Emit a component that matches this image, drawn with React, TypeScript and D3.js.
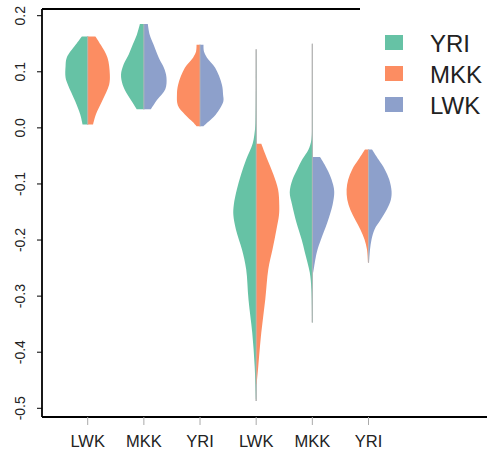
import React from "react";
import * as d3 from "d3";

const categories = ["LWK", "MKK", "YRI", "LWK", "MKK", "YRI"];
const legendSeries = ["YRI", "MKK", "LWK"];
const seriesColors: Record<string, string> = { YRI: "#66C2A5", MKK: "#FC8D62", LWK: "#8DA0CB" };
const yTicks = [0.2, 0.1, 0.0, -0.1, -0.2, -0.3, -0.4, -0.5];
const yTickLabels = ["0.2", "0.1", "0.0", "-0.1", "-0.2", "-0.3", "-0.4", "-0.5"];
const halfSeries = [["YRI", "MKK"], ["YRI", "LWK"], ["MKK", "LWK"], ["YRI", "MKK"], ["YRI", "LWK"], ["MKK", "LWK"]];
// full data range of each violin (grey centre line)
const ranges = [[0.006, 0.163], [0.033, 0.185], [0.003, 0.148], [-0.487, 0.14], [-0.347, 0.15], [-0.24, -0.0387]];

// [value, relative density]
const v1Left = [[0.163, 0.25], [0.148, 0.52], [0.125, 0.9], [0.11, 0.95], [0.09, 0.95], [0.077, 0.85], [0.048, 0.54], [0.024, 0.32], [0.006, 0.22]];
const v1Right = [[0.163, 0.33], [0.148, 0.56], [0.125, 0.85], [0.095, 0.95], [0.077, 0.92], [0.048, 0.62], [0.024, 0.35], [0.006, 0.23]];
const v2Left = [[0.185, 0.17], [0.166, 0.3], [0.148, 0.48], [0.131, 0.65], [0.113, 0.87], [0.095, 0.98], [0.077, 0.91], [0.059, 0.7], [0.045, 0.48], [0.033, 0.3]];
const v2Right = [[0.185, 0.17], [0.166, 0.25], [0.148, 0.42], [0.125, 0.64], [0.107, 0.86], [0.09, 0.97], [0.069, 0.92], [0.05, 0.57], [0.033, 0.3]];
const v3Left = [[0.148, 0.15], [0.136, 0.17], [0.125, 0.3], [0.107, 0.65], [0.077, 0.94], [0.059, 0.99], [0.04, 0.95], [0.024, 0.65], [0.01, 0.3], [0.003, 0.15]];
const v3Right = [[0.148, 0.15], [0.136, 0.17], [0.125, 0.3], [0.107, 0.65], [0.077, 0.94], [0.059, 0.99], [0.047, 1.0], [0.024, 0.68], [0.01, 0.33], [0.003, 0.15]];
const v4Left = [[0.14, 0.0], [0.086, 0.005], [0.05, 0.012], [0.024, 0.02], [0.002, 0.04], [-0.028, 0.15], [-0.0565, 0.43], [-0.083, 0.65], [-0.11, 0.83], [-0.137, 0.96], [-0.155, 0.98], [-0.181, 0.87], [-0.217, 0.61], [-0.252, 0.43], [-0.306, 0.33], [-0.365, 0.17], [-0.425, 0.065], [-0.484, 0.01]];
const v4Right = [[-0.0285, 0.22], [-0.0565, 0.48], [-0.083, 0.74], [-0.11, 0.94], [-0.137, 0.99], [-0.155, 0.98], [-0.181, 0.87], [-0.217, 0.7], [-0.252, 0.52], [-0.306, 0.39], [-0.365, 0.22], [-0.425, 0.09], [-0.457, 0.02]];
const v5Left = [[0.15, 0.0], [0.015, 0.01], [-0.021, 0.04], [-0.039, 0.17], [-0.056, 0.43], [-0.074, 0.65], [-0.092, 0.85], [-0.115, 0.97], [-0.137, 0.87], [-0.169, 0.68], [-0.199, 0.46], [-0.222, 0.32], [-0.258, 0.11], [-0.288, 0.04], [-0.347, 0.01]];
const v5Right = [[-0.052, 0.33], [-0.065, 0.52], [-0.083, 0.74], [-0.101, 0.89], [-0.115, 0.94], [-0.137, 0.87], [-0.169, 0.64], [-0.199, 0.37], [-0.222, 0.19], [-0.258, 0.04]];
const v6Left = [[-0.0387, 0.15], [-0.0566, 0.43], [-0.074, 0.7], [-0.092, 0.87], [-0.11, 0.94], [-0.128, 0.91], [-0.146, 0.78], [-0.164, 0.57], [-0.181, 0.35], [-0.199, 0.17], [-0.217, 0.065], [-0.24, 0.02]];
const v6Right = [[-0.0387, 0.15], [-0.0566, 0.43], [-0.074, 0.7], [-0.092, 0.89], [-0.113, 0.99], [-0.128, 0.96], [-0.146, 0.78], [-0.164, 0.52], [-0.181, 0.26], [-0.199, 0.13], [-0.217, 0.065], [-0.24, 0.02]];

const halves = [[v1Left, v1Right], [v2Left, v2Right], [v3Left, v3Right], [v4Left, v4Right], [v5Left, v5Right], [v6Left, v6Right]];

const W = 487;
const H = 451;
const plotLeft = 42;
const plotTop = 9;
const plotBottom = 417;

export default function App() {
  const y = d3.scaleLinear().domain([-0.5, 0.2]).range([408.3, 15.7]);
  const x = d3.scaleLinear().domain([1, 6]).range([87.7, 368.5]);
  const w = d3.scaleLinear().domain([0, 1]).range([0, 23.3]);
  const font = "'Liberation Sans', Arial, Helvetica, sans-serif";

  const makeArea = (cx: number, side: number) =>
    d3
      .area<number[]>()
      .y((d) => y(d[0]))
      .x0(cx)
      .x1((d) => cx + side * w(d[1]))
      .curve(d3.curveCatmullRom.alpha(0.5));

  return (
    <svg width={W} height={H} style={{ position: "absolute", left: 0, top: 0, background: "#fff" }}>
      <rect x={0} y={0} width={W} height={H} fill="#fff" />
      {halves.map((pair, i) => {
        const cx = x(i + 1);
        const [lo, hi] = ranges[i];
        return (
          <g key={i}>
            <line x1={cx} x2={cx} y1={y(hi)} y2={y(lo)} stroke="#b0b0b0" strokeWidth={1.2} />
            <path d={makeArea(cx, -1)(pair[0] as number[][]) || ""} fill={seriesColors[halfSeries[i][0]]} />
            <path d={makeArea(cx, 1)(pair[1] as number[][]) || ""} fill={seriesColors[halfSeries[i][1]]} />
            <line x1={cx} x2={cx} y1={y(hi)} y2={y(lo)} stroke="#b8b8b8" strokeWidth={0.8} />
          </g>
        );
      })}
      {/* frame */}
      <line x1={plotLeft} x2={plotLeft} y1={plotTop} y2={plotBottom} stroke="#000" strokeWidth={1.8} />
      <line x1={plotLeft} x2={360} y1={plotTop} y2={plotTop} stroke="#000" strokeWidth={1.8} />
      <line x1={plotLeft} x2={W} y1={plotBottom} y2={plotBottom} stroke="#000" strokeWidth={1.8} />
      {/* y axis */}
      {yTicks.map((t, i) => (
        <g key={i}>
          <line x1={plotLeft - 5} x2={plotLeft} y1={y(t)} y2={y(t)} stroke="#000" strokeWidth={1} />
          <text
            transform={`translate(25,${y(t)}) rotate(-90)`}
            textAnchor="middle"
            fontFamily={font}
            fontSize={14}
            fill="#222"
          >
            {yTickLabels[i]}
          </text>
        </g>
      ))}
      {/* x axis */}
      {categories.map((c, i) => (
        <g key={i}>
          <line x1={x(i + 1)} x2={x(i + 1)} y1={plotBottom} y2={plotBottom + 8} stroke="#aaa" strokeWidth={1} />
          <text x={x(i + 1)} y={446.5} textAnchor="middle" fontFamily={font} fontSize={16.5} fill="#222">
            {c}
          </text>
        </g>
      ))}
      {/* legend */}
      {legendSeries.map((s, i) => (
        <g key={s}>
          <rect x={385} y={35 + i * 31} width={18} height={15} fill={seriesColors[s]} />
          <text x={430} y={51.5 + i * 31} fontFamily={font} fontSize={24} fill="#222">
            {s}
          </text>
        </g>
      ))}
    </svg>
  );
}
